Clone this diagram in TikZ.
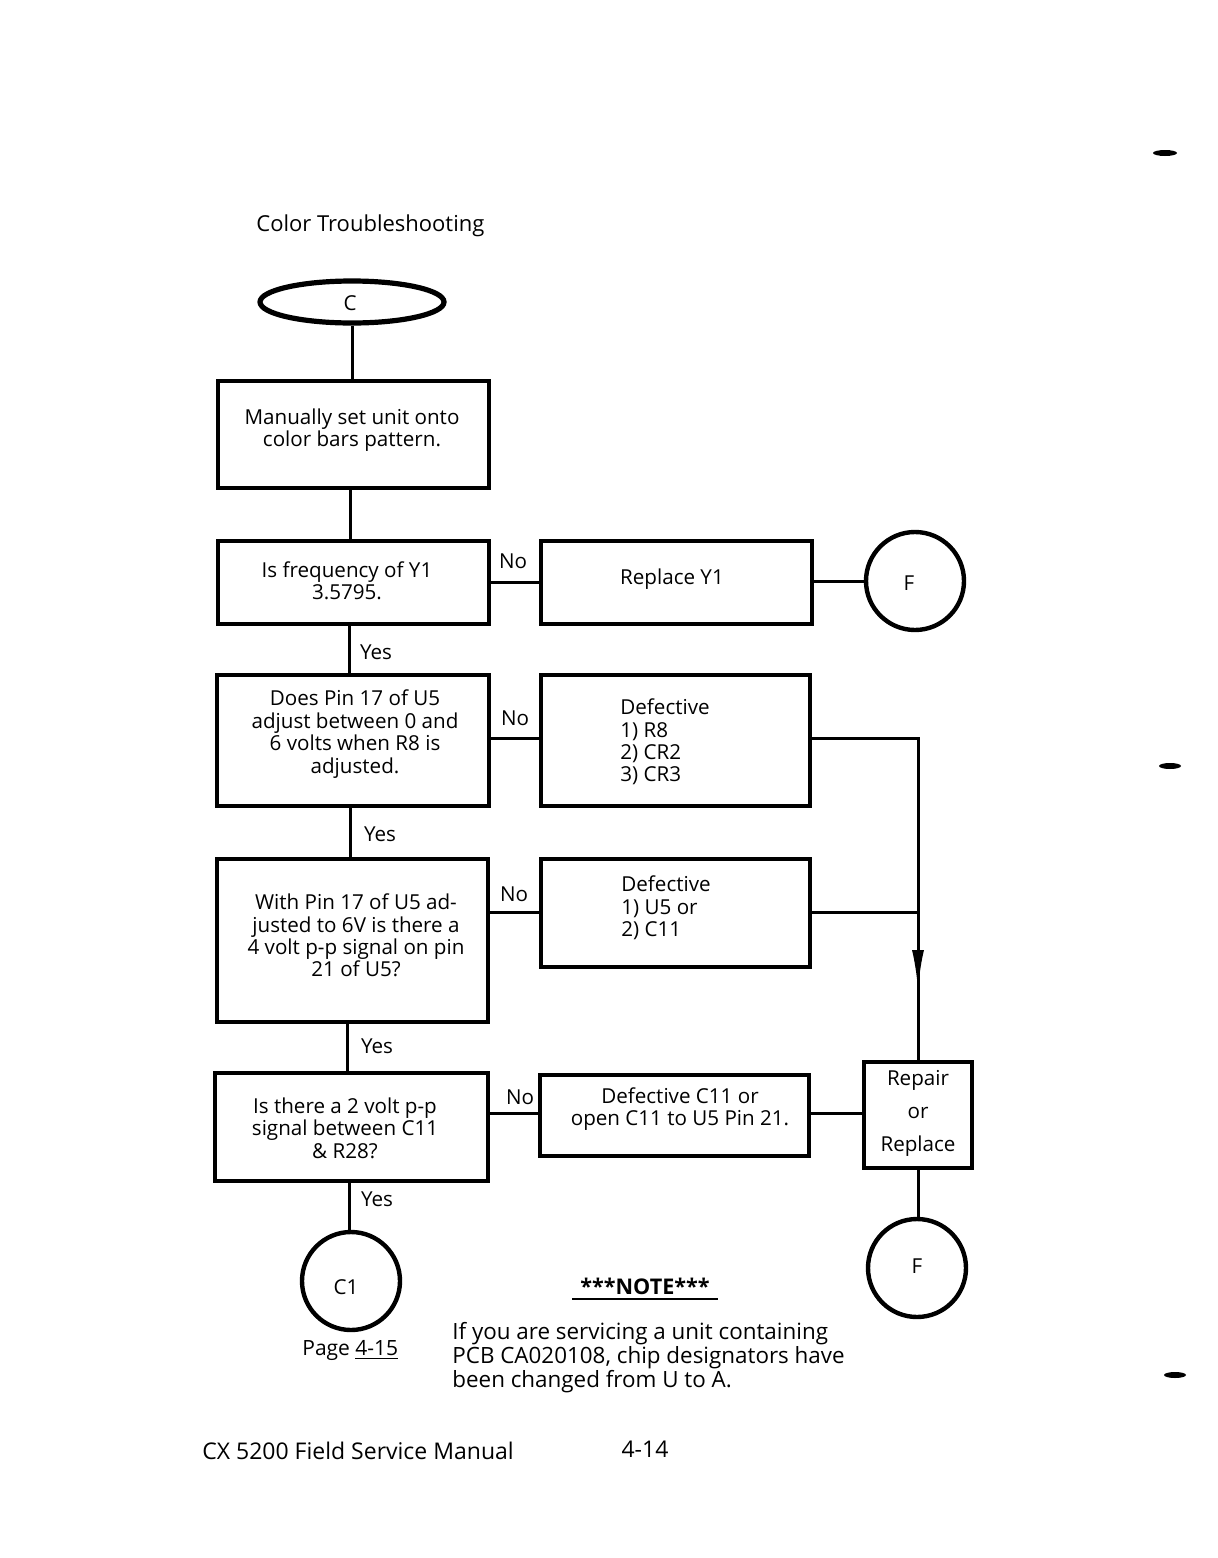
\documentclass[tikz,border=0pt]{standalone}
\usepackage{fontspec}
\setmainfont{Open Sans}
\usetikzlibrary{arrows.meta,shapes.geometric}
\begin{document}
\begin{tikzpicture}[x=0.5pt,y=-0.5pt,
  box/.style={draw,line width=2.4pt,rectangle,inner sep=0pt},
  conn/.style={line width=1.5pt},
  term/.style={draw,line width=2.2pt,circle,minimum size=49pt,inner sep=0pt},
  txt/.style={font=\fontsize{10.3}{11.2}\selectfont,align=center,inner sep=0pt},
  lbl/.style={font=\fontsize{10.3}{11}\selectfont,inner sep=0pt},
]
\useasboundingbox (0,0) rectangle (1218,1558);
\fill[white] (0,0) rectangle (1218,1558);

% title
\node[lbl,anchor=west,font=\fontsize{11}{12}\selectfont] (title) at (256,226) {Color Troubleshooting};

% start ellipse
\node[draw,ellipse,line width=2.6pt,minimum width=92pt,minimum height=21pt,inner sep=0pt] (c) at (352,302) {};
\node[lbl] (ctext) at (350,303) {C};

% boxes
\node[box,minimum width=135.5pt,minimum height=53.5pt] (b1) at (353.5,434.5) {};
\node[txt] (b1t) at (352,430) {Manually set unit onto\\color bars pattern.};

\node[box,minimum width=135.5pt,minimum height=41.5pt] (b2) at (353.5,582.5) {};
\node[txt] (b2t) at (347,580.5) {Is frequency of Y1\\3.5795.};

\node[box,minimum width=135.5pt,minimum height=41.5pt] (rep) at (676.5,582.5) {};
\node[txt] (rept) at (672,579) {Replace Y1};

\node[term] (f1) at (915,581) {};
\node[lbl] (f1t) at (909,583) {F};

\node[box,minimum width=136pt,minimum height=65.5pt] (b3) at (353,740.5) {};
\node[txt] (b3t) at (355,734) {Does Pin 17 of U5\\adjust between 0 and\\6 volts when R8 is\\adjusted.};

\node[box,minimum width=134.5pt,minimum height=65.5pt] (d1) at (675.5,740.5) {};
\node[txt,align=left,anchor=west] (d1t) at (620,742) {Defective\\1) R8\\2) CR2\\3) CR3};

\node[box,minimum width=135.5pt,minimum height=81.5pt] (b4) at (352.5,940.5) {};
\node[txt] (b4t) at (356,935.5) {With Pin 17 of U5 ad-\\justed to 6V is there a\\4 volt p-p signal on pin\\21 of U5?};

\node[box,minimum width=134.5pt,minimum height=54pt] (d2) at (675.5,913) {};
\node[txt,align=left,anchor=west] (d2t) at (621,908) {Defective\\1) U5 or\\2) C11};

\node[box,minimum width=136.5pt,minimum height=54pt] (b5) at (351.5,1127) {};
\node[txt] (b5t) at (345,1128) {Is there a 2 volt p-p\\signal between C11\\\& R28?};

\node[box,minimum width=134.5pt,minimum height=40.5pt] (d3) at (674.5,1115.5) {};
\node[txt] (d3t) at (680,1109) {Defective C11 or\\open C11 to U5 Pin 21.};

\node[box,minimum width=54pt,minimum height=53pt] (rr) at (918,1115) {};
\node[txt,font=\fontsize{10.3}{16.5}\selectfont] (rrt) at (918,1113) {Repair\\or\\Replace};

\node[term] (f2) at (917,1268) {};
\node[lbl] (f2t) at (917,1266) {F};

\node[term] (c1) at (351,1281) {};
\node[lbl] (c1t) at (346,1287) {C1};

% connectors
\draw[conn] (c.south) -- (c.south |- b1.north);
\draw[conn] (b1.south -| 350,0) -- (b2.north -| 350,0);
\draw[conn] (b2.east) -- (rep.west);
\draw[conn] (rep.east |- f1.west) -- (f1.west);
\draw[conn] (b2.south -| 349,0) -- (b3.north -| 349,0);
\draw[conn] (b3.east |- 0,738) -- (d1.west |- 0,738);
\draw[conn] (b3.south -| 350,0) -- (b4.north -| 350,0);
\draw[conn] (b4.east |- 0,912) -- (d2.west |- 0,912);
\draw[conn] (b4.south -| 347,0) -- (b5.north -| 347,0);
\draw[conn] (b5.east |- 0,1113) -- (d3.west |- 0,1113);
\draw[conn] (d3.east |- 0,1113) -- (rr.west |- 0,1113);
\draw[conn] (b5.south -| 349,0) -- (c1.north -| 349,0);
\draw[conn] (rr.south) -- (f2.north -| rr.south);

\coordinate (j1) at (918,738);
\coordinate (j2) at (918,912);
\coordinate (tip) at (918,990);
\draw[conn] (d1.east |- j1) -- (j1) -- (rr.north);
\draw[conn] (d2.east |- j2) -- (j2);
\draw[conn,-{Latex[length=20pt,width=6pt]}] (j2) -- (tip);

% labels
\node[lbl] (no1) at (513,561) {No};
\node[lbl] (no2) at (515,718) {No};
\node[lbl] (no3) at (514,894) {No};
\node[lbl] (no4) at (520,1097) {No};
\node[lbl] (y1) at (376,652) {Yes};
\node[lbl] (y2) at (380,834) {Yes};
\node[lbl] (y3) at (377,1046) {Yes};
\node[lbl] (y4) at (377,1199) {Yes};

% page ref
\node[lbl,anchor=west,font=\fontsize{10.5}{12}\selectfont] (pg) at (302,1350) {Page \underline{4-15}};

% note
\node[lbl,font=\fontsize{10.8}{12}\bfseries] (note) at (645,1286) {***NOTE***};
\draw[line width=1pt] (572,1299) -- (718,1299);
\node[txt,align=left,anchor=west,font=\fontsize{11.2}{12}\selectfont] (notet) at (452,1358) {If you are servicing a unit containing\\PCB CA020108, chip designators have\\been changed from U to A.};

% footer
\node[lbl,anchor=west,font=\fontsize{11.5}{12}\selectfont] (foot) at (202,1451) {CX 5200 Field Service Manual};
\node[lbl,font=\fontsize{11.5}{12}\selectfont] (pn) at (645,1449) {4-14};

% margin marks
\fill (1165,153) ellipse (12 and 3);
\fill (1170,766) ellipse (11 and 3);
\fill (1175,1375) ellipse (11 and 3);
\end{tikzpicture}
\end{document}
